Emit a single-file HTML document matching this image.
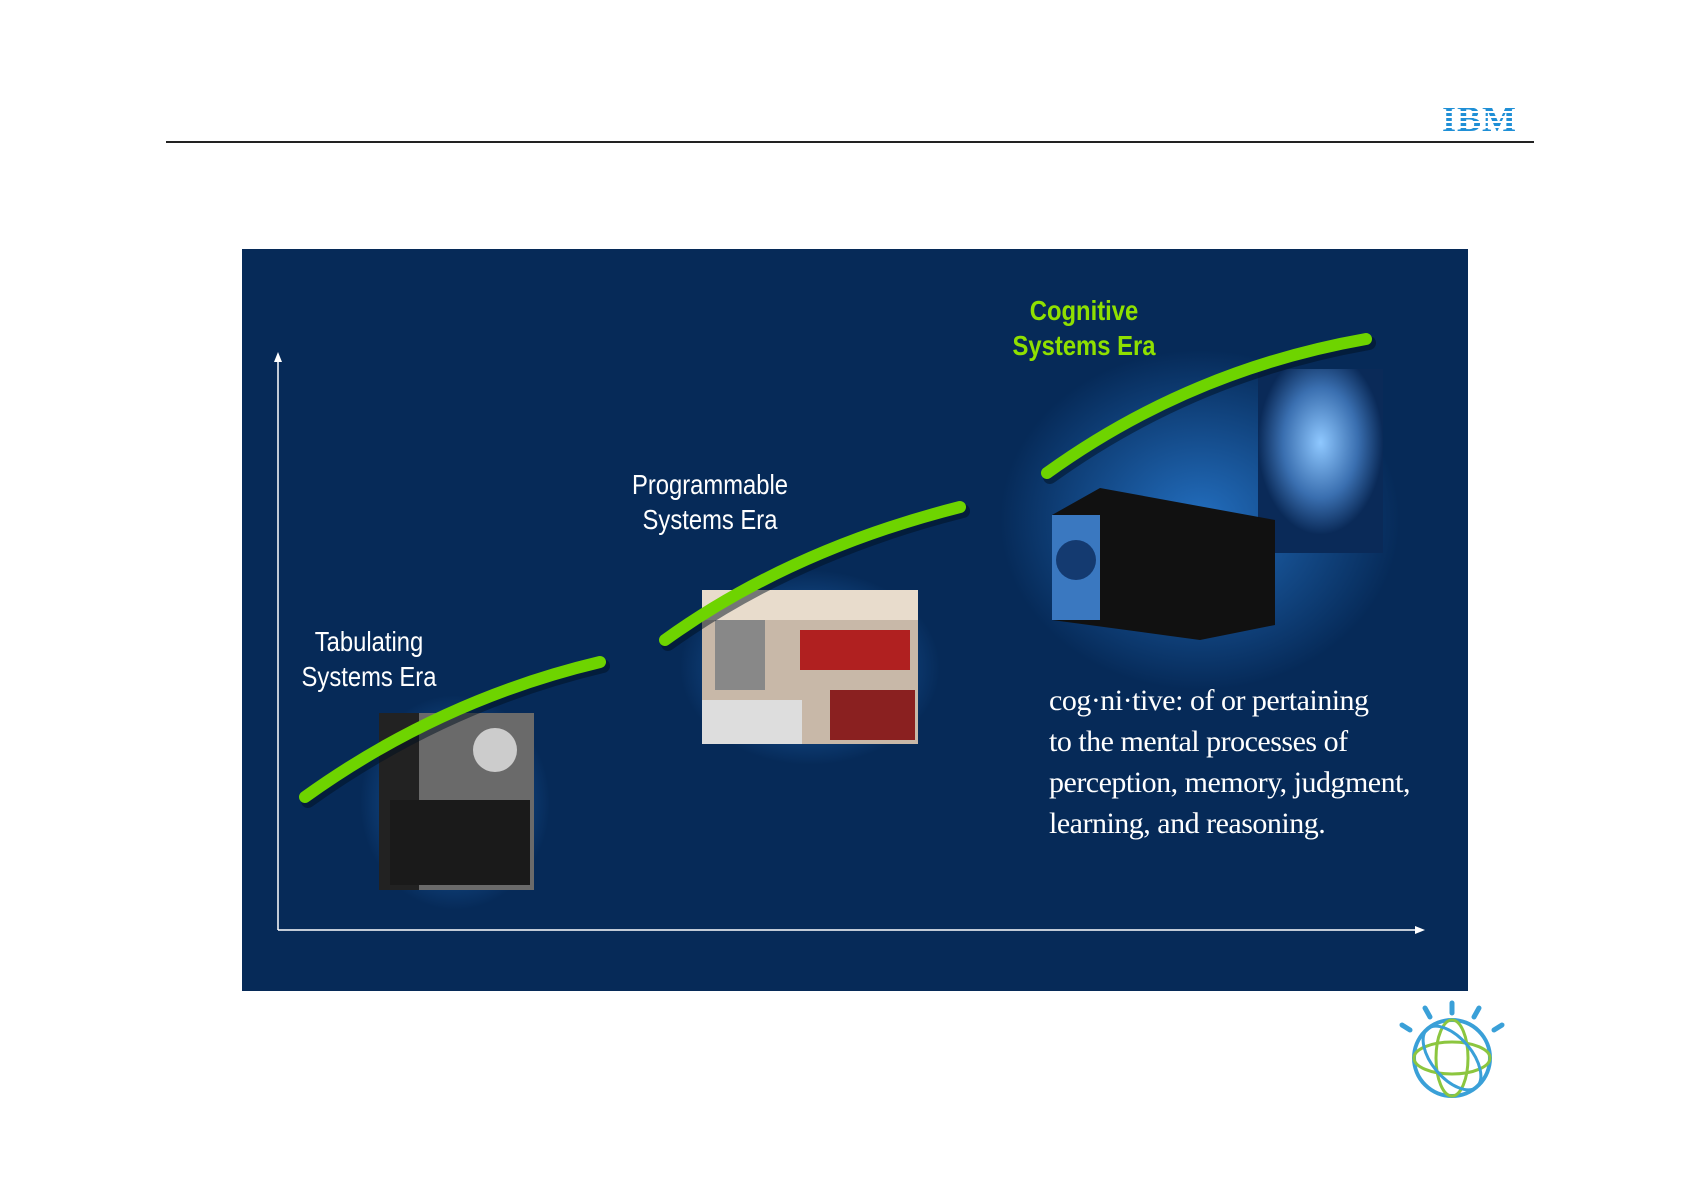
<!DOCTYPE html>
<html><head><meta charset="utf-8"><style>
body{margin:0;width:1684px;height:1190px;background:#fff;position:relative;overflow:hidden;font-family:"Liberation Sans",sans-serif}
.abs{position:absolute}
.lbl{position:absolute;color:#fff;font-size:28px;text-align:center;line-height:35px;transform:scaleX(0.85);white-space:nowrap}
</style></head><body>
<div class="abs" style="left:166px;top:141px;width:1368px;height:2px;background:#222"></div>
<div class="abs" style="left:1442px;top:98px;font:bold 36px 'Liberation Serif',serif;color:#1f8fd6;letter-spacing:1px;background:repeating-linear-gradient(#fff 0 3px,transparent 3px 6px);">
<span style="color:#1f8fd6">IBM</span></div>
<div class="abs" style="left:1440px;top:98px;width:80px;height:36px;background:repeating-linear-gradient(transparent 0 3px,#fff 3px 5px)"></div>
<div class="abs" style="left:242px;top:249px;width:1226px;height:742px;background:#062a58"></div>
<svg class="abs" style="left:0;top:0" width="1684" height="1190">
<defs>
<radialGradient id="g" cx="50%" cy="50%" r="50%"><stop offset="0" stop-color="#2a7fd8" stop-opacity="0.8"/><stop offset="1" stop-color="#2a7fd8" stop-opacity="0"/></radialGradient>
<radialGradient id="h" cx="50%" cy="40%" r="50%"><stop offset="0" stop-color="#8fc8ff"/><stop offset="0.6" stop-color="#3a6fb0"/><stop offset="1" stop-color="#0a2a58"/></radialGradient>
</defs>
<rect x="360" y="695" width="190" height="215" fill="url(#g)"/>
<rect x="680" y="570" width="260" height="195" fill="url(#g)"/>
<ellipse cx="1200" cy="520" rx="200" ry="170" fill="url(#g)"/>
<line x1="278" y1="930" x2="278" y2="355" stroke="#fff" stroke-width="1.5"/>
<path d="M274 362 L278 352 L282 362Z" fill="#fff"/>
<line x1="278" y1="930" x2="1420" y2="930" stroke="#fff" stroke-width="1.5"/>
<path d="M1415 926 L1425 930 L1415 934Z" fill="#fff"/>
<rect x="379" y="713" width="155" height="177" fill="#6a6a6a"/>
<rect x="379" y="713" width="40" height="177" fill="#222"/>
<rect x="390" y="800" width="140" height="85" fill="#1a1a1a"/>
<circle cx="495" cy="750" r="22" fill="#ccc"/>
<rect x="702" y="590" width="216" height="154" fill="#c8b8a8"/>
<rect x="702" y="590" width="216" height="30" fill="#e8dccc"/>
<rect x="715" y="620" width="50" height="70" fill="#888"/>
<rect x="800" y="630" width="110" height="40" fill="#b02020"/>
<rect x="830" y="690" width="85" height="50" fill="#8a2020"/>
<rect x="702" y="700" width="100" height="44" fill="#ddd"/>
<rect x="1258" y="369" width="125" height="184" fill="url(#h)"/>
<path d="M1052 515 L1100 488 L1275 520 L1275 625 L1200 640 L1052 620Z" fill="#111"/>
<rect x="1052" y="515" width="48" height="105" fill="#3a78c0"/>
<circle cx="1076" cy="560" r="20" fill="#143a70"/>
<g fill="none" stroke-linecap="round">
<path d="M305 797 Q440 700 600 662" stroke="#001020" stroke-width="14" opacity="0.5" transform="translate(3,4)"/>
<path d="M305 797 Q440 700 600 662" stroke="#6ed400" stroke-width="12"/>
<path d="M665 640 Q790 550 960 507" stroke="#001020" stroke-width="14" opacity="0.5" transform="translate(3,4)"/>
<path d="M665 640 Q790 550 960 507" stroke="#6ed400" stroke-width="12"/>
<path d="M1047 473 Q1190 370 1366 339" stroke="#001020" stroke-width="14" opacity="0.5" transform="translate(3,4)"/>
<path d="M1047 473 Q1190 370 1366 339" stroke="#6ed400" stroke-width="12"/>
</g>
<g transform="translate(1452,1058)">
<circle r="38" fill="none" stroke="#3aa0d8" stroke-width="4"/>
<ellipse rx="38" ry="16" fill="none" stroke="#8cc63f" stroke-width="3"/>
<ellipse rx="16" ry="38" fill="none" stroke="#8cc63f" stroke-width="3"/>
<ellipse rx="38" ry="20" transform="rotate(50)" fill="none" stroke="#3aa0d8" stroke-width="3"/>
<g stroke="#3aa0d8" stroke-width="5" stroke-linecap="round">
<line x1="0" y1="-55" x2="0" y2="-45"/><line x1="-27" y1="-50" x2="-22" y2="-41"/><line x1="27" y1="-50" x2="22" y2="-41"/>
<line x1="-50" y1="-33" x2="-42" y2="-28"/><line x1="50" y1="-33" x2="42" y2="-28"/></g>
</g>
</svg>
<div class="lbl" style="left:269px;top:624px;width:200px">Tabulating<br>Systems Era</div>
<div class="lbl" style="left:610px;top:467px;width:200px">Programmable<br>Systems Era</div>
<div class="lbl" style="left:984px;top:293px;width:200px;color:#8fe000;font-weight:bold">Cognitive<br>Systems Era</div>
<div class="abs" style="left:1049px;top:680px;color:#fff;font:30px/41px 'Liberation Serif',serif;letter-spacing:-0.5px">cog·ni·tive: of or pertaining<br>to the mental processes of<br>perception, memory, judgment,<br>learning, and reasoning.</div>
</body></html>
